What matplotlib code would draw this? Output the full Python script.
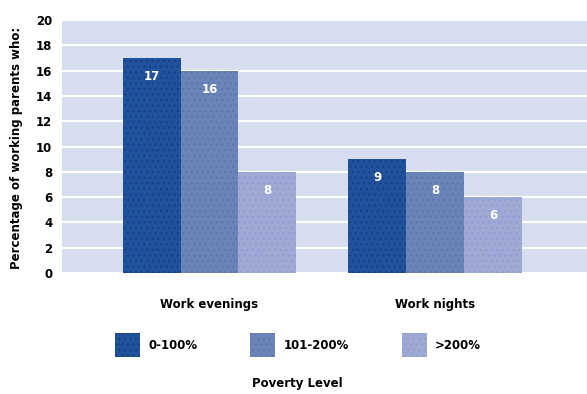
import matplotlib
matplotlib.use("Agg")
import matplotlib.pyplot as plt
from matplotlib.patches import Patch
import numpy as np

# Data
categories = ["Work evenings", "Work nights"]
series_names = ["0-100%", "101-200%", ">200%"]
values_0_100 = [17, 9]
values_101_200 = [16, 8]
values_over_200 = [8, 6]
y_ticks = [0, 2, 4, 6, 8, 10, 12, 14, 16, 18, 20]

series_values = [values_0_100, values_101_200, values_over_200]
colors = ["#22519b", "#6a84b8", "#9ea9d6"]
hatch_colors = ["#123a88", "#5a72ad", "#8e9acc"]

plt.rcParams["font.family"] = ["DejaVu Sans"]
plt.rcParams["hatch.linewidth"] = 0.6

fs = 8.5

fig = plt.figure(figsize=(5.87, 3.94), dpi=100)
fig.patch.set_facecolor("white")
ax = fig.add_axes([62 / 587, 1 - 273 / 394, 1 - 62 / 587, (273 - 20) / 394])
ax.set_facecolor("#d6ddef")

x = np.arange(len(categories))
w = 0.257
for i, (vals, c, hc) in enumerate(zip(series_values, colors, hatch_colors)):
    pos = x + (i - 1) * w
    bars = ax.bar(pos, vals, width=w, color=c, edgecolor=hc, linewidth=0,
                  hatch="...", zorder=3, label=series_names[i])
    for b, v in zip(bars, vals):
        ax.annotate(f"{v}", (b.get_x() + b.get_width() / 2, v),
                    xytext=(0, -13.5), textcoords="offset points",
                    ha="center", va="center", color="white",
                    fontsize=fs, fontweight="bold", zorder=4)

ax.set_ylim(0, 20)
ax.set_xlim(-0.654, 1.674)
ax.set_yticks(y_ticks)
ax.set_yticklabels([str(t) for t in y_ticks], fontsize=fs, fontweight="bold")
ax.set_xticks(x)
ax.set_xticklabels(categories, fontsize=fs, fontweight="bold")
ax.tick_params(axis="x", length=0, pad=18)
ax.tick_params(axis="y", length=0, pad=7)
ax.grid(axis="y", color="white", linewidth=1.6, zorder=1)
ax.set_axisbelow(True)
for s in ax.spines.values():
    s.set_visible(False)

fig.text(17 / 587, 1 - 148 / 394, "Percentage of working parents who:",
         rotation=90, ha="center", va="center", fontsize=fs, fontweight="bold")

handles = [Patch(facecolor=c, edgecolor=hc, hatch="...", linewidth=0)
           for c, hc in zip(colors, hatch_colors)]
fig.legend(handles, series_names, loc="center",
           bbox_to_anchor=(298 / 587, 1 - 345 / 394), ncol=3, frameon=False,
           handlelength=2.1, handleheight=2.7, handletextpad=0.68,
           columnspacing=4.5, prop={"size": fs, "weight": "bold"})

fig.text(297 / 587, 1 - 383 / 394, "Poverty Level", ha="center", va="center",
         fontsize=fs, fontweight="bold")

fig.savefig("out.png", dpi=100)
